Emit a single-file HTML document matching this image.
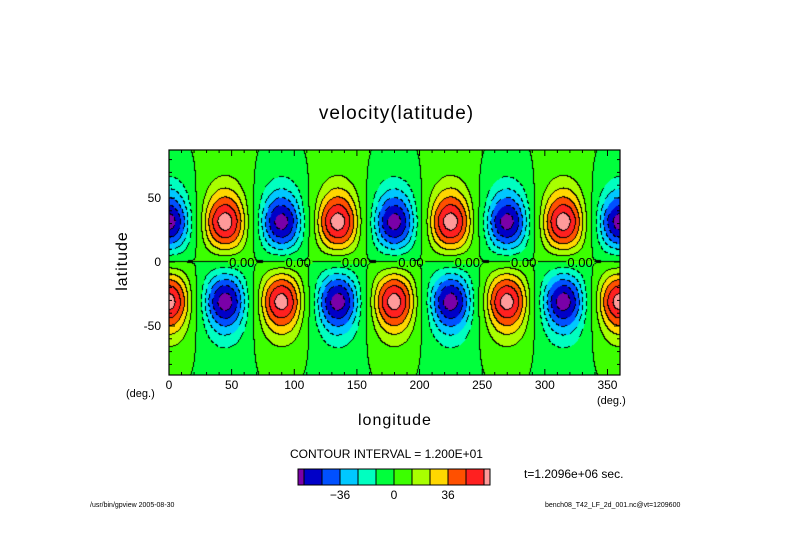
<!DOCTYPE html>
<html><head><meta charset="utf-8"><style>
body{margin:0;background:#fff;width:789px;height:558px;overflow:hidden;position:relative;font-family:"Liberation Sans","DejaVu Sans",sans-serif;}
.t{position:absolute;white-space:nowrap;color:#000;}
</style></head><body>
<div class="t" style="left:0;width:789px;text-align:center;top:103px;font-size:19px;letter-spacing:1px;padding-left:2px">velocity(latitude)</div>
<canvas id="cv" width="451" height="225" style="position:absolute;left:169px;top:150px"></canvas>
<svg id="ax" width="789" height="558" style="position:absolute;left:0;top:0"></svg>
<div class="t" style="left:358px;top:412px;font-size:16px;letter-spacing:1px">longitude</div>
<div class="t" style="left:88px;top:252px;font-size:16px;letter-spacing:1px;transform:rotate(-90deg);width:70px;text-align:center">latitude</div>
<div class="t" style="left:126px;top:388px;font-size:11px">(deg.)</div>
<div class="t" style="left:597px;top:395px;font-size:11px">(deg.)</div>
<div class="t" style="left:290px;top:447px;font-size:12px">CONTOUR INTERVAL = 1.200E+01</div>
<div class="t" style="left:524px;top:467px;font-size:12px">t=1.2096e+06 sec.</div>
<div class="t" style="left:90px;top:502px;font-size:7px">/usr/bin/gpview  2005-08-30</div>
<div class="t" style="left:545px;top:502px;font-size:7px">bench08_T42_LF_2d_001.nc@vt=1209600</div>
<script>
const cellLon=[0,45,90,135,180,225,270,315,360];
const cellSignNorth=[-1,1,-1,1,-1,1,-1,1,-1];
const amplitude=[66];
const offset=[0.4];
const peakLat=[32];
const latWidthEq=[24];
const latWidthPole=[25];
const levels=[-60,-48,-36,-24,-12,0,12,24,36,48,60];
const colors=["#7a00a8","#0000c8","#0050ff","#00c8ff","#00ffc0","#00ff3c","#3cff00","#a8ff00","#ffd700","#ff5000","#ff2020","#ff9a9a"];
const barLabels=[-36,0,36];
const xTicks=[0,50,100,150,200,250,300,350];
const yTicks=[50,0,-50];
const zeroLabelLon=[48,93,138,183,228,273,318];

const X0=169,X1=620,LON1=360,Y0=262,PPD=1.28;
const xs=l=>X0+(X1-X0)*l/LON1, ys=p=>Y0-p*PPD;
function G(d){
  if(d>0)return Math.exp(-Math.pow(d/latWidthPole[0],1.6));
  return Math.exp(-Math.pow(d/latWidthEq[0],2));
}
function field(lon,lat){
  let k=Math.round(lon/45);k=Math.max(0,Math.min(cellLon.length-1,k));
  const c=Math.max(0,Math.cos((lon-cellLon[k])*Math.PI/180*4));
  const g=Math.pow(c,1.3);
  const p=peakLat[0],a=Math.abs(lat),s=lat>=0?1:-1;
  const h=s*Math.max(0,G(a-p)-Math.exp(-Math.pow((a+p)/latWidthEq[0],2)));
  return amplitude[0]*cellSignNorth[k]*g*h+offset[0]*s;
}
function lev(v){let i=0;while(i<levels.length&&v>=levels[i])i++;return i;}
const cv=document.getElementById('cv'),ctx=cv.getContext('2d');
const W=cv.width,H=cv.height,img=ctx.createImageData(W,H);
const L=[],V=[];
for(let y=0;y<H;y++)for(let x=0;x<W;x++){
  const lon=(x+0.5)*(LON1/(X1-X0)),lat=(Y0-150-(y+0.5))/PPD;
  const v=field(lon,lat);V.push(v);L.push(lev(v));}
function hex(c){return[parseInt(c.substr(1,2),16),parseInt(c.substr(3,2),16),parseInt(c.substr(5,2),16)];}
const rgb=colors.map(hex);
for(let y=0;y<H;y++)for(let x=0;x<W;x++){
  const i=y*W+x;let c=rgb[L[i]];
  const edge=(x+1<W&&L[i+1]!==L[i])||(y+1<H&&L[i+W]!==L[i]);
  if(edge){const neg=V[i]<-3;if(!neg||((x+y)%8)<5)c=[0,0,0];}
  img.data.set([c[0],c[1],c[2],255],i*4);}
ctx.putImageData(img,0,0);

const svg=document.getElementById('ax'),NS='http://www.w3.org/2000/svg';
function mk(t,a,p){const e=document.createElementNS(NS,t);for(const k in a)e.setAttribute(k,a[k]);(p||svg).appendChild(e);return e;}
const fr=mk('rect',{x:169,y:150,width:451,height:225,fill:'none',stroke:'#000','stroke-width':1.2});


for(let l=0;l<=360;l+=10){const x=xs(l),len=l%50===0?6:3;
  mk('line',{x1:x,x2:x,y1:375,y2:375-len,stroke:'#000'});mk('line',{x1:x,x2:x,y1:150,y2:150+len,stroke:'#000'});}
for(let p=-80;p<=80;p+=10){const y=ys(p),len=p%50===0?6:3;
  mk('line',{x1:169,x2:169+len,y1:y,y2:y,stroke:'#000'});mk('line',{x1:620,x2:620-len,y1:y,y2:y,stroke:'#000'});}
xTicks.forEach(v=>{const t=mk('text',{x:xs(v),y:389,'text-anchor':'middle','font-size':12,'font-family':'Liberation Sans'});t.textContent=v;
  
  });
yTicks.forEach(v=>{const t=mk('text',{x:161,y:ys(v)+4,'text-anchor':'end','font-size':12,'font-family':'Liberation Sans'});t.textContent=v;
  
  });
zeroLabelLon.forEach(v=>{
  mk('rect',{x:xs(v)-1,y:ys(0)-1,width:28,height:3,fill:'#3cff00'});
  const t=mk('text',{x:xs(v),y:ys(0)+5,'text-anchor':'start','font-size':13,'font-family':'Liberation Sans'});t.textContent='0.00';
  
  });
const bx=298,bw=18,sw=6,by=469,bh=16;let cx=bx;
colors.forEach((c,i)=>{const w=(i===0||i===colors.length-1)?sw:bw;
  const r=mk('rect',{x:cx,y:by,width:w,height:bh,fill:c,stroke:'#000','stroke-width':1});
  
  
  cx+=w;});
function barX(v){const i=levels.indexOf(v);return bx+sw+i*bw;}
barLabels.forEach(v=>{const t=mk('text',{x:barX(v),y:499,'text-anchor':'middle','font-size':12,'font-family':'Liberation Sans'});t.textContent=v===0?'0':(v<0?'\u2212'+(-v):v);
  
  });
</script>
</body></html>
